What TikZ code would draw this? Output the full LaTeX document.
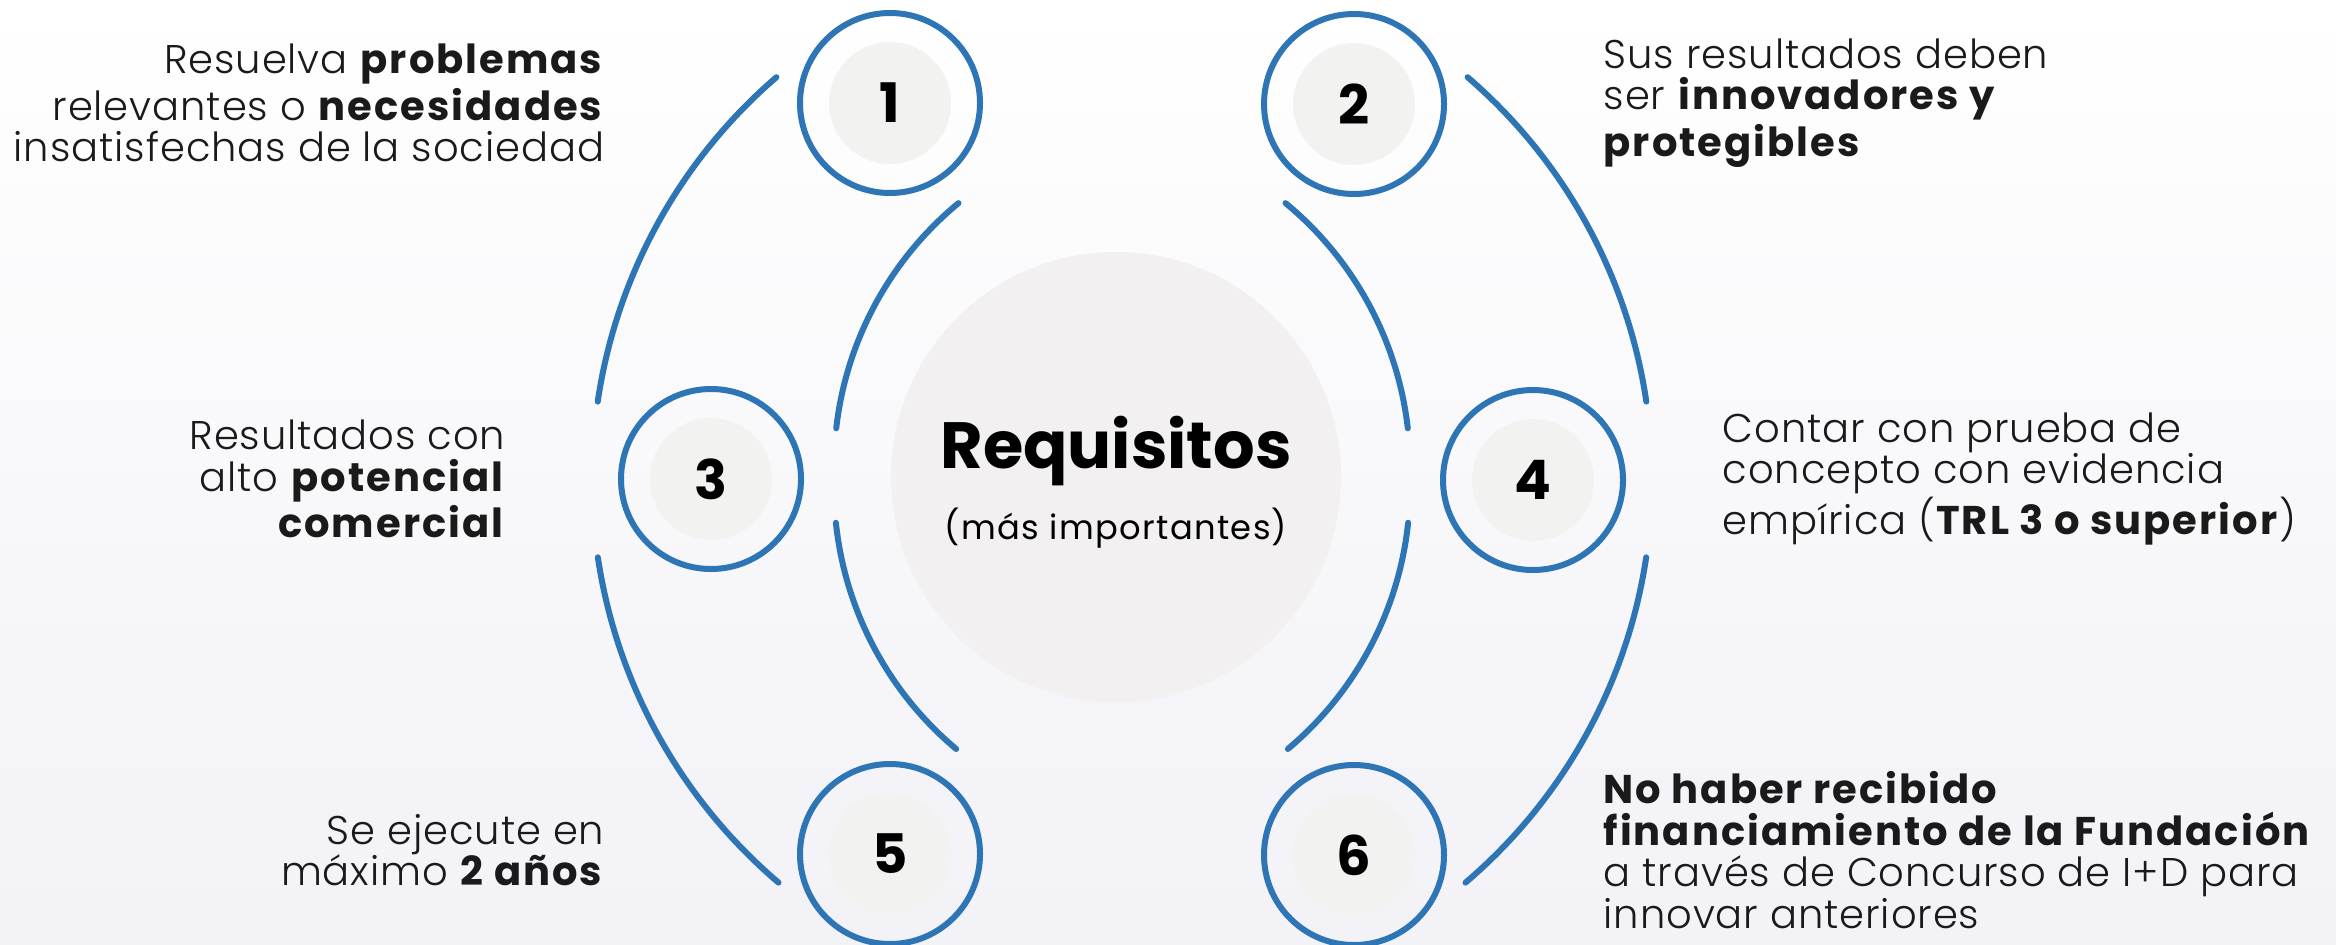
\documentclass[tikz,border=0pt]{standalone}
\usepackage{fontspec}
\setmainfont{Poppins}[UprightFont={* Light},UprightFeatures={LetterSpace=2.3},
  BoldFont={* Bold},BoldFeatures={LetterSpace=5}]
\newfontfamily\heavyfont{Poppins}[UprightFont={* Bold}]
\newfontfamily\plainfont{Poppins}[LetterSpace=4]
\usepackage{tikz}
\usetikzlibrary{positioning}

\definecolor{ringblue}{RGB}{46,117,182}
\definecolor{numfill}{RGB}{242,243,241}
\definecolor{hubfill}{RGB}{242,240,241}
\definecolor{inkblack}{RGB}{26,26,26}
\definecolor{bgbottom}{RGB}{242,242,247}

\tikzset{
  numcircle/.style={circle, draw=ringblue, line width=0.06cm, minimum size=1.80cm,
    inner sep=0pt, text=black, font=\heavyfont\fontsize{15.5}{16}\selectfont,
    path picture={\fill[numfill] (path picture bounding box.center) circle (0.61);}},
  ring/.style={draw=ringblue, line width=0.06cm, line cap=round},
  desc/.style={font=\fontsize{11.4}{11.8}\selectfont, text=inkblack, inner sep=0pt}
}

\begin{document}
\begin{tikzpicture}
    \useasboundingbox (0,0) rectangle (23.36,-9.44);
    \shade[top color=white, bottom color=bgbottom] (0,0) rectangle (23.36,-9.44);

    % centre
    \node[circle, fill=hubfill, minimum size=4.5cm] (hub) at (11.16,-4.77) {};
    \node[anchor=base, text=black, font=\heavyfont\fontsize{18.6}{20}\selectfont] (title) at (11.16,-4.68) {Requisitos};
    \node[anchor=base, text=black, font=\plainfont\fontsize{9.6}{10}\selectfont] (sub) at (11.16,-5.39) {(más importantes)};

    % outer arcs
    \draw[ring] ([shift={(130.7:5.3)}]11.22,-4.79) arc[start angle=130.7, end angle=171.6, radius=5.3];
    \draw[ring] ([shift={(188.5:5.3)}]11.22,-4.79) arc[start angle=188.5, end angle=229.6, radius=5.3];
    \draw[ring] ([shift={(49.3:5.3)}]11.22,-4.79) arc[start angle=49.3, end angle=8.4, radius=5.3];
    \draw[ring] ([shift={(-8.5:5.3)}]11.22,-4.79) arc[start angle=-8.5, end angle=-49.6, radius=5.3];
    % inner arcs
    \draw[ring] ([shift={(129.5:3.42)}]11.76,-4.67) arc[start angle=129.5, end angle=173.5, radius=3.42];
    \draw[ring] ([shift={(186:3.42)}]11.76,-4.87) arc[start angle=186, end angle=230, radius=3.42];
    \draw[ring] ([shift={(50.5:3.42)}]10.68,-4.67) arc[start angle=50.5, end angle=6.5, radius=3.42];
    \draw[ring] ([shift={(-6:3.42)}]10.68,-4.87) arc[start angle=-6, end angle=-50, radius=3.42];

    % numbers
    \node[numcircle] (n1) at (8.90,-1.03) {1};
    \node[numcircle] (n2) at (13.54,-1.04) {2};
    \node[numcircle] (n3) at (7.11,-4.79) {3};
    \node[numcircle] (n4) at (15.33,-4.80) {4};
    \node[numcircle] (n5) at (8.90,-8.54) {5};
    \node[numcircle] (n6) at (13.54,-8.55) {6};

    % texts
    \node[desc, anchor=east, align=right] (t1) at (6.05,-1.03) {Resuelva \textbf{problemas}\\ relevantes o \textbf{necesidades}\\ insatisfechas de la sociedad};
    \node[desc, anchor=west, align=left] (t2) at (16.03,-1.03) {Sus resultados deben\\ ser \textbf{innovadores y}\\ \textbf{protegibles}};
    \node[desc, anchor=east, align=right] (t3) at (5.06,-4.79) {Resultados con\\ alto \textbf{potencial}\\ \textbf{comercial}};
    \node[desc, anchor=west, align=left] (t4) at (17.22,-4.79) {Contar con prueba de\\ concepto con evidencia\\ empírica (\textbf{TRL 3 o superior})};
    \node[desc, anchor=east, align=right] (t5) at (6.05,-8.50) {Se ejecute en\\ máximo \textbf{2 años}};
    \node[desc, anchor=west, align=left] (t6) at (16.03,-8.50) {\textbf{No haber recibido}\\ \textbf{financiamiento de la Fundación}\\ a través de Concurso de I+D para\\ innovar anteriores};
\end{tikzpicture}
\end{document}
